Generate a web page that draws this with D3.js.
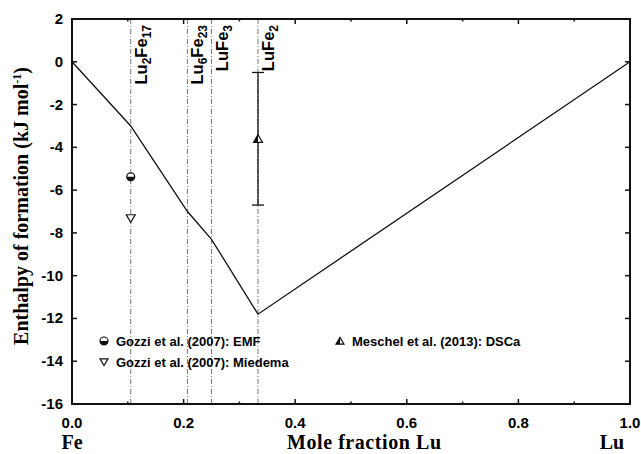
<!DOCTYPE html>
<html>
<head>
<meta charset="utf-8">
<script src="https://cdn.jsdelivr.net/npm/d3@7"></script>
<style>
  body { margin: 0; background: #fff; }
  svg text { fill: #000; }
</style>
</head>
<body>
<svg id="chart"></svg>
<script>
// calculated enthalpy of formation along the Fe-Lu join
const hullX = [0, 2 / 19, 6 / 29, 0.25, 1 / 3, 1];
const hullY = [0, -3.0, -7.0, -8.3, -11.8, 0];

// compounds marked with vertical lines
const compNames = [["Lu", "2", "Fe", "17"], ["Lu", "6", "Fe", "23"], ["Lu", "", "Fe", "3"], ["Lu", "", "Fe", "2"]];
const compX = [2 / 19, 6 / 29, 0.25, 1 / 3];

// experimental / estimated points
const emfX = [2 / 19], emfY = [-5.38];
const miedemaX = [2 / 19], miedemaY = [-7.32];
const dscX = [1 / 3], dscY = [-3.6], dscErr = [3.1];

const yTicks = [2, 0, -2, -4, -6, -8, -10, -12, -14, -16];
const xTicks = [0, 0.2, 0.4, 0.6, 0.8, 1.0];
const xMinor = [0.1, 0.3, 0.5, 0.7, 0.9];

const width = 641, height = 454;
const margin = { top: 19, right: 11, bottom: 50, left: 72 };

const svg = d3.select("#chart").attr("width", width).attr("height", height);

const x = d3.scaleLinear().domain([0, 1]).range([margin.left, width - margin.right]);
const y = d3.scaleLinear().domain([-16, 2]).range([height - margin.bottom, margin.top]);

const sansBold = "Arial, 'Liberation Sans', sans-serif";
const serifBold = "'Times New Roman', 'Liberation Serif', serif";

// vertical compound lines
svg.append("g")
  .selectAll("line")
  .data(compX)
  .enter()
  .append("line")
  .attr("x1", d => x(d)).attr("x2", d => x(d))
  .attr("y1", y(2)).attr("y2", y(-16))
  .attr("stroke", "#777")
  .attr("stroke-width", 1)
  .attr("stroke-dasharray", "5,2,1,2");

// compound labels, rotated
compX.forEach((cx, i) => {
  const n = compNames[i];
  const t = svg.append("text")
    .attr("transform", `translate(${x(cx) + 16},${y(2) + 6}) rotate(-90)`)
    .attr("text-anchor", "end")
    .style("font-family", sansBold)
    .style("font-size", "16.5px")
    .style("font-weight", "bold");
  t.append("tspan").text(n[0]);
  if (n[1]) t.append("tspan").attr("baseline-shift", "-30%").style("font-size", "12px").text(n[1]);
  t.append("tspan").text(n[2]);
  t.append("tspan").attr("baseline-shift", "-30%").style("font-size", "12px").text(n[3]);
});

// hull line
const line = d3.line().x(d => x(d[0])).y(d => y(d[1]));
svg.append("path")
  .datum(hullX.map((d, i) => [d, hullY[i]]))
  .attr("d", line)
  .attr("fill", "none")
  .attr("stroke", "#111")
  .attr("stroke-width", 1.3);

// error bars
dscX.forEach((dx, i) => {
  const g = svg.append("g").attr("stroke", "#111").attr("stroke-width", 1.3);
  g.append("line").attr("x1", x(dx)).attr("x2", x(dx)).attr("y1", y(dscY[i] + dscErr[i])).attr("y2", y(dscY[i] - dscErr[i]));
  g.append("line").attr("x1", x(dx) - 6).attr("x2", x(dx) + 6).attr("y1", y(dscY[i] + dscErr[i])).attr("y2", y(dscY[i] + dscErr[i]));
  g.append("line").attr("x1", x(dx) - 6).attr("x2", x(dx) + 6).attr("y1", y(dscY[i] - dscErr[i])).attr("y2", y(dscY[i] - dscErr[i]));
});

// markers
const halfCircle = (g, cx, cy, r) => {
  g.append("circle").attr("cx", cx).attr("cy", cy).attr("r", r).attr("fill", "#fff").attr("stroke", "#111").attr("stroke-width", 1.2);
  g.append("path")
    .attr("d", `M${cx - r},${cy} A${r},${r} 0 0 0 ${cx + r},${cy} Z`)
    .attr("fill", "#111");
};
const downTri = (g, cx, cy, s) => {
  g.append("path")
    .attr("d", `M${cx - s},${cy - s * 0.8} L${cx + s},${cy - s * 0.8} L${cx},${cy + s * 0.9} Z`)
    .attr("fill", "#fff").attr("stroke", "#111").attr("stroke-width", 1.2);
};
const halfUpTri = (g, cx, cy, s) => {
  g.append("path")
    .attr("d", `M${cx - s},${cy + s * 0.8} L${cx + s},${cy + s * 0.8} L${cx},${cy - s * 0.9} Z`)
    .attr("fill", "#fff").attr("stroke", "#111").attr("stroke-width", 1.2);
  g.append("path")
    .attr("d", `M${cx - s},${cy + s * 0.8} L${cx},${cy + s * 0.8} L${cx},${cy - s * 0.9} Z`)
    .attr("fill", "#111");
};

const marks = svg.append("g");
emfX.forEach((d, i) => halfCircle(marks, x(d), y(emfY[i]), 4));
miedemaX.forEach((d, i) => downTri(marks, x(d), y(miedemaY[i]), 4.5));
dscX.forEach((d, i) => halfUpTri(marks, x(d), y(dscY[i]), 4.5));

// axes frame
svg.append("rect")
  .attr("x", x(0)).attr("y", y(2))
  .attr("width", x(1) - x(0)).attr("height", y(-16) - y(2))
  .attr("fill", "none").attr("stroke", "#111").attr("stroke-width", 2);

// ticks (inside), on all four sides
const tk = svg.append("g").attr("stroke", "#111").attr("stroke-width", 1.5);
xTicks.forEach(t => {
  tk.append("line").attr("x1", x(t)).attr("x2", x(t)).attr("y1", y(-16)).attr("y2", y(-16) - 5);
  tk.append("line").attr("x1", x(t)).attr("x2", x(t)).attr("y1", y(2)).attr("y2", y(2) + 5);
});
xMinor.forEach(t => {
  tk.append("line").attr("x1", x(t)).attr("x2", x(t)).attr("y1", y(-16)).attr("y2", y(-16) - 2.5);
  tk.append("line").attr("x1", x(t)).attr("x2", x(t)).attr("y1", y(2)).attr("y2", y(2) + 2.5);
});
yTicks.forEach(t => {
  tk.append("line").attr("x1", x(0)).attr("x2", x(0) + 5).attr("y1", y(t)).attr("y2", y(t));
  tk.append("line").attr("x1", x(1)).attr("x2", x(1) - 5).attr("y1", y(t)).attr("y2", y(t));
});

// tick labels
svg.append("g")
  .selectAll("text")
  .data(yTicks)
  .enter()
  .append("text")
  .attr("x", x(0) - 9)
  .attr("y", d => y(d) + 5)
  .attr("text-anchor", "end")
  .style("font-family", sansBold)
  .style("font-size", "15px")
  .style("font-weight", "bold")
  .text(d => d);

svg.append("g")
  .selectAll("text")
  .data(xTicks)
  .enter()
  .append("text")
  .attr("x", d => x(d))
  .attr("y", y(-16) + 24)
  .attr("text-anchor", "middle")
  .style("font-family", sansBold)
  .style("font-size", "15px")
  .style("font-weight", "bold")
  .text(d => d3.format(".1f")(d));

// axis titles
const xt = [["Fe", x(0), 0], ["Mole fraction Lu", 364, 154], ["Lu", 612, 0]];
xt.forEach(d => {
  const t = svg.append("text")
    .attr("x", d[1]).attr("y", 449)
    .attr("text-anchor", "middle")
    .style("font-family", serifBold)
    .style("font-size", "20px")
    .style("font-weight", "bold")
    .text(d[0]);
  if (d[2]) t.attr("textLength", d[2]).attr("lengthAdjust", "spacing");
});

const yl = svg.append("text")
  .attr("transform", "translate(28,206) rotate(-90)")
  .attr("text-anchor", "middle")
  .style("font-family", serifBold)
  .style("font-size", "20px")
  .style("font-weight", "bold");
yl.append("tspan").text("Enthalpy of formation (kJ mol");
yl.append("tspan").attr("baseline-shift", "super").style("font-size", "12px").text("-1");
yl.append("tspan").text(")");

// legend
const legendItems = [
  { label: "Gozzi et al. (2007): EMF", lx: 104, ly: 341, draw: halfCircle, s: 4 },
  { label: "Gozzi et al. (2007): Miedema", lx: 104, ly: 362, draw: downTri, s: 4 },
  { label: "Meschel et al. (2013): DSCa", lx: 340, ly: 341, draw: halfUpTri, s: 4 }
];
const legend = svg.append("g");
legendItems.forEach(d => {
  d.draw(legend, d.lx, d.ly, d.s);
  legend.append("text")
    .attr("x", d.lx + 12).attr("y", d.ly + 5)
    .style("font-family", sansBold)
    .style("font-size", "13px")
    .style("font-weight", "bold")
    .text(d.label);
});
</script>
</body>
</html>
